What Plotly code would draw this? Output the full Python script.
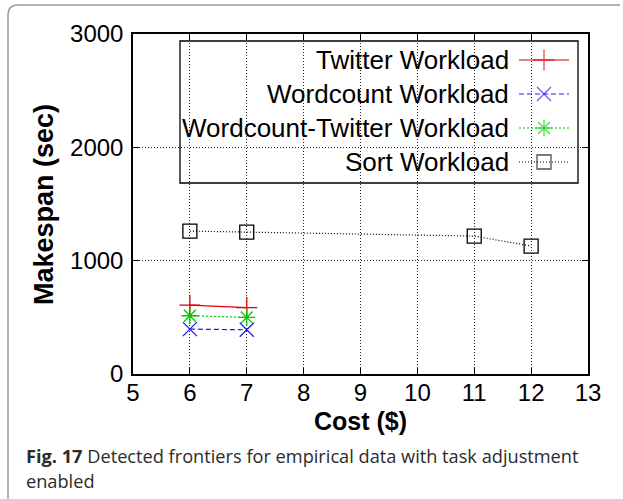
import plotly.graph_objects as go

# ---- data ----
twitter_cost = [6, 7]
twitter_makespan = [607, 586]
wordcount_cost = [6, 7]
wordcount_makespan = [396, 390]
wt_cost = [6, 7]
wt_makespan = [514, 499]
sort_cost = [6, 7, 11, 12]
sort_makespan = [1261, 1252, 1217, 1129]

series_names = ["Twitter Workload", "Wordcount Workload",
                "Wordcount-Twitter Workload", "Sort Workload"]
x_ticks = list(range(5, 14))
y_ticks = [0, 1000, 2000, 3000]

colors = ["#e00000", "#1a1aff", "#00c800", "#000000"]
dashes = ["solid", "5px,3px", "2px,2px", "1px,2px"]
symbols = ["cross-thin", "x-thin", "asterisk-open", "square-open"]
msizes = [15, 14, 14, 14]

W, H = 623, 499
L, R, T, B = 133, 35, 34, 125
PW, PH = W - L - R, H - T - B


def px(x):
    return (x - L) / PW


def py(y):
    return (H - B - y) / PH


FONT = "Liberation Sans, Arial"

fig = go.Figure()
data = [(twitter_cost, twitter_makespan), (wordcount_cost, wordcount_makespan),
        (wt_cost, wt_makespan), (sort_cost, sort_makespan)]
for i, (xs, ys) in enumerate(data):
    fig.add_trace(go.Scatter(
        x=xs, y=ys, mode="lines+markers", name=series_names[i], showlegend=False,
        line=dict(color=colors[i], width=1.2, dash=dashes[i]),
        marker=dict(symbol=symbols[i], size=msizes[i],
                    line=dict(color=colors[i], width=1.3), color=colors[i])))

# ---- custom gnuplot-style legend (text right, sample right) ----
leg_x0, leg_x1, leg_y0, leg_y1 = 180, 578, 41, 183
fig.add_shape(type="rect", xref="paper", yref="paper",
              x0=px(leg_x0), x1=px(leg_x1), y0=py(leg_y1), y1=py(leg_y0),
              line=dict(color="black", width=1.3), fillcolor="white", layer="between")
row_y = [60, 94, 128, 162]
for i, name in enumerate(series_names):
    fig.add_annotation(x=px(511), y=py(row_y[i]), xref="paper", yref="paper",
                       text=name, showarrow=False, xanchor="right", yanchor="middle",
                       font=dict(family=FONT, size=26, color="black"))
    fig.add_trace(go.Scatter(
        x=[px(519), px(544), px(569)], y=[py(row_y[i])] * 3, xaxis="x2", yaxis="y2",
        mode="lines+markers", showlegend=False, hoverinfo="skip",
        line=dict(color=colors[i], width=1.2, dash=dashes[i]),
        marker=dict(symbol=symbols[i], size=[0, msizes[i], 0],
                    line=dict(color=colors[i], width=1.3), color=colors[i])))

# ---- outer rounded border ----
xl, yt = px(8), py(5)
xr, yb = px(620), py(499)
rx, ry = 10 / PW, 10 / PH
fig.add_shape(type="path", xref="paper", yref="paper",
              path=f"M {xl},{yb} L {xl},{yt - ry} Q {xl},{yt} {xl + rx},{yt} L {xr},{yt}",
              line=dict(color="#9a9a9a", width=1.5))

# ---- axis titles ----
fig.add_annotation(x=px(44), y=py(205), xref="paper", yref="paper", text="<b>Makespan (sec)</b>",
                   textangle=-90, showarrow=False, xanchor="center", yanchor="middle",
                   font=dict(family=FONT, size=27, color="black"))
fig.add_annotation(x=px(360), y=py(421), xref="paper", yref="paper", text="<b>Cost ($)</b>",
                   showarrow=False, xanchor="center", yanchor="middle",
                   font=dict(family=FONT, size=25, color="black"))

# ---- caption ----
CAP = dict(family="Open Sans", size=18.2, color="#2b2b2b")
fig.add_annotation(x=px(24), y=py(456), xref="paper", yref="paper", xanchor="left", yanchor="middle",
                   text="<b>Fig. 17</b> Detected frontiers for empirical data with task adjustment",
                   showarrow=False, font=CAP)
fig.add_annotation(x=px(24), y=py(481), xref="paper", yref="paper", xanchor="left", yanchor="middle",
                   text="enabled", showarrow=False, font=CAP)

axis_common = dict(showline=True, linecolor="black", linewidth=1.5, mirror="allticks",
                   ticks="inside", ticklen=6, tickcolor="black", tickwidth=1,
                   showgrid=True, gridcolor="#222222", griddash="1px,2px", gridwidth=1,
                   zeroline=False,
                   tickfont=dict(family=FONT, size=24, color="black"))
fig.update_layout(
    width=W, height=H, margin=dict(l=L, r=R, t=T, b=B, pad=0),
    paper_bgcolor="white", plot_bgcolor="white",
    xaxis=dict(range=[5, 13], tickvals=x_ticks, ticklabelstandoff=-4, **axis_common),
    yaxis=dict(range=[0, 3000], tickvals=y_ticks, ticklabelstandoff=3, **axis_common),
    xaxis2=dict(range=[0, 1], overlaying="x", visible=False, fixedrange=True),
    yaxis2=dict(range=[0, 1], overlaying="y", visible=False, fixedrange=True),
    showlegend=False,
)
fig.write_html("out.html")
